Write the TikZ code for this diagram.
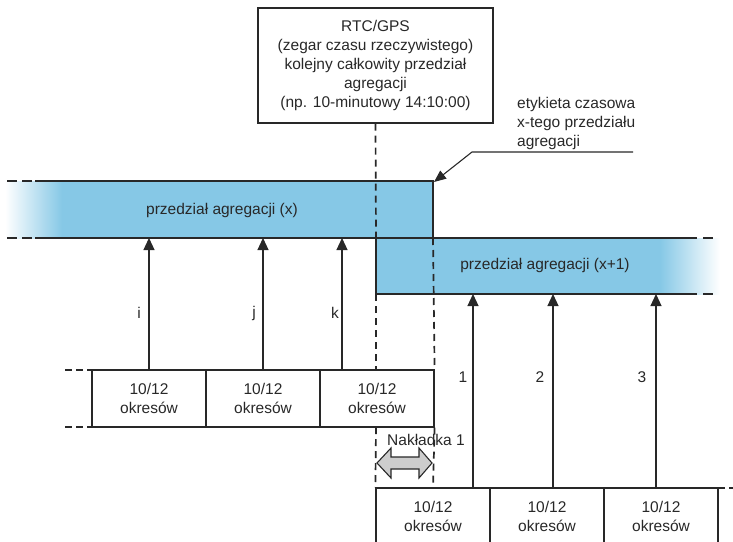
\documentclass[tikz,border=0pt]{standalone}
\usepackage{fontspec}
\setmainfont{Liberation Sans}
\usetikzlibrary{arrows.meta}
\definecolor{bandblue}{RGB}{134,200,230}
\definecolor{ink}{RGB}{40,40,40}
\definecolor{arrgray}{RGB}{205,205,205}
\begin{document}
\begin{tikzpicture}[x=1pt,y=-1pt,
  txt/.style={font=\fontsize{15.5}{19}\selectfont, text=ink, inner sep=0pt, align=center},
  sline/.style={draw=ink, line width=1.2pt},
  dline/.style={draw=ink, line width=1.7pt, dash pattern=on 7pt off 5pt},
  stub/.style={draw=ink, line width=1.3pt, dash pattern=on 7pt off 4pt},
  okbox/.style={draw=ink, line width=1.2pt, minimum width=114pt, minimum height=57pt,
     inner sep=0pt, align=center, text=ink, font=\fontsize{15.5}{19}\selectfont},
  arr/.style={draw=ink, line width=1.2pt, -{Triangle[width=11pt,length=12pt]}}
]
\useasboundingbox (0,0) rectangle (733,541);
\clip (0,0) rectangle (733,541);

% ---- band x
\shade[left color=white, right color=bandblue] (5,181) rectangle (62,238);
\fill[bandblue] (61.5,181) rectangle (433,238);
% ---- band x+1
\fill[bandblue] (376,238) rectangle (660.5,294);
\shade[left color=bandblue, right color=white] (660,238) rectangle (720,294);

\node[txt] (lx) at (222,210) {przedział agregacji (x)};
\node[txt] (lx1) at (545,265) {przedział agregacji (x+1)};

% band outlines
\draw[sline] (35,181) -- (433,181) -- (433,238);
\draw[sline, line width=1.4pt, dash pattern=on 10pt off 5pt] (7,181) -- (35,181);
\draw[sline, line width=1.4pt, dash pattern=on 10pt off 5pt] (7,238) -- (35,238);
\draw[sline] (35,238) -- (697,238);
\draw[sline, line width=1.4pt] (703,238) -- (713,238);
\draw[sline] (376,238) -- (376,294) -- (697,294);
\draw[sline, line width=1.4pt] (703,294) -- (713,294);

\coordinate (bxs) at (0,238);
\coordinate (bx1s) at (0,294);

% ---- clock box
\node[draw=ink, line width=1.2pt, minimum width=235pt, minimum height=115pt, txt] (rtc) at (375.5,65.5)
 {RTC/GPS\\(zegar czasu rzeczywistego)\\kolejny całkowity przedział\\agregacji\\(np. 10-minutowy 14:10:00)};

% ---- lower left boxes
\node[okbox] (a1) at (149,398.5) {10/12\\okresów};
\node[okbox] (a2) at (263,398.5) {10/12\\okresów};
\node[okbox] (a3) at (377,398.5) {10/12\\okresów};
\draw[stub] (65,370) -- (92,370);
\draw[stub] (65,427) -- (92,427);

% ---- lower right boxes
\node[okbox] (b1) at (433,516.5) {10/12\\okresów};
\node[okbox] (b2) at (547,516.5) {10/12\\okresów};
\node[okbox] (b3) at (661,516.5) {10/12\\okresów};
\draw[stub] (718,488) -- (735,488);

% ---- vertical dashed lines
\draw[dline] (rtc.south) -- (376,238);
\draw[dline] (376,294) -- (376,370);
\draw[dline] (376,427) -- (b1.north west);
\draw[dline] (433,238) -- (a3.north east);
\draw[dline] (a3.south east) -- (433,488);

% ---- arrows up
\draw[arr] (a1.north) -- (a1.north |- bxs);
\draw[arr] (a2.north) -- (a2.north |- bxs);
\draw[arr] ([xshift=-35pt]a3.north) -- ([xshift=-35pt]a3.north |- bxs);
\draw[arr] ([xshift=40pt]b1.north) -- ([xshift=40pt]b1.north |- bx1s);
\draw[arr] ([xshift=6pt]b2.north) -- ([xshift=6pt]b2.north |- bx1s);
\draw[arr] ([xshift=-5pt]b3.north) -- ([xshift=-5pt]b3.north |- bx1s);

\node[txt] (li) at (139,313) {i};
\node[txt] (lj) at (254,313) {j};
\node[txt] (lk) at (335,313) {k};
\node[txt] (l1) at (463,377) {1};
\node[txt] (l2) at (540,377) {2};
\node[txt] (l3) at (642,377) {3};

% ---- overlap arrow
\node[txt] (nak) at (426,440) {Nakładka 1};
\draw[draw=ink, line width=1.1pt, fill=arrgray, line join=miter]
  (377,463) -- (391,448) -- (391,457) -- (419,457) -- (419,448) -- (432,463)
  -- (419,478) -- (419,469) -- (391,469) -- (391,478) -- cycle;

% ---- time stamp callout
\node[txt, align=left, anchor=north west] (tag) at (517,97) {etykieta czasowa\\x-tego przedziału\\agregacji};
\coordinate (tagend) at (633,152);
\coordinate (tagbend) at (472,152);
\coordinate (tagtip) at (434,182);
\draw[draw=ink, line width=1.1pt, -{Triangle[width=10pt,length=12pt]}] (tagend) -- (tagbend) -- (tagtip);
\end{tikzpicture}
\end{document}
